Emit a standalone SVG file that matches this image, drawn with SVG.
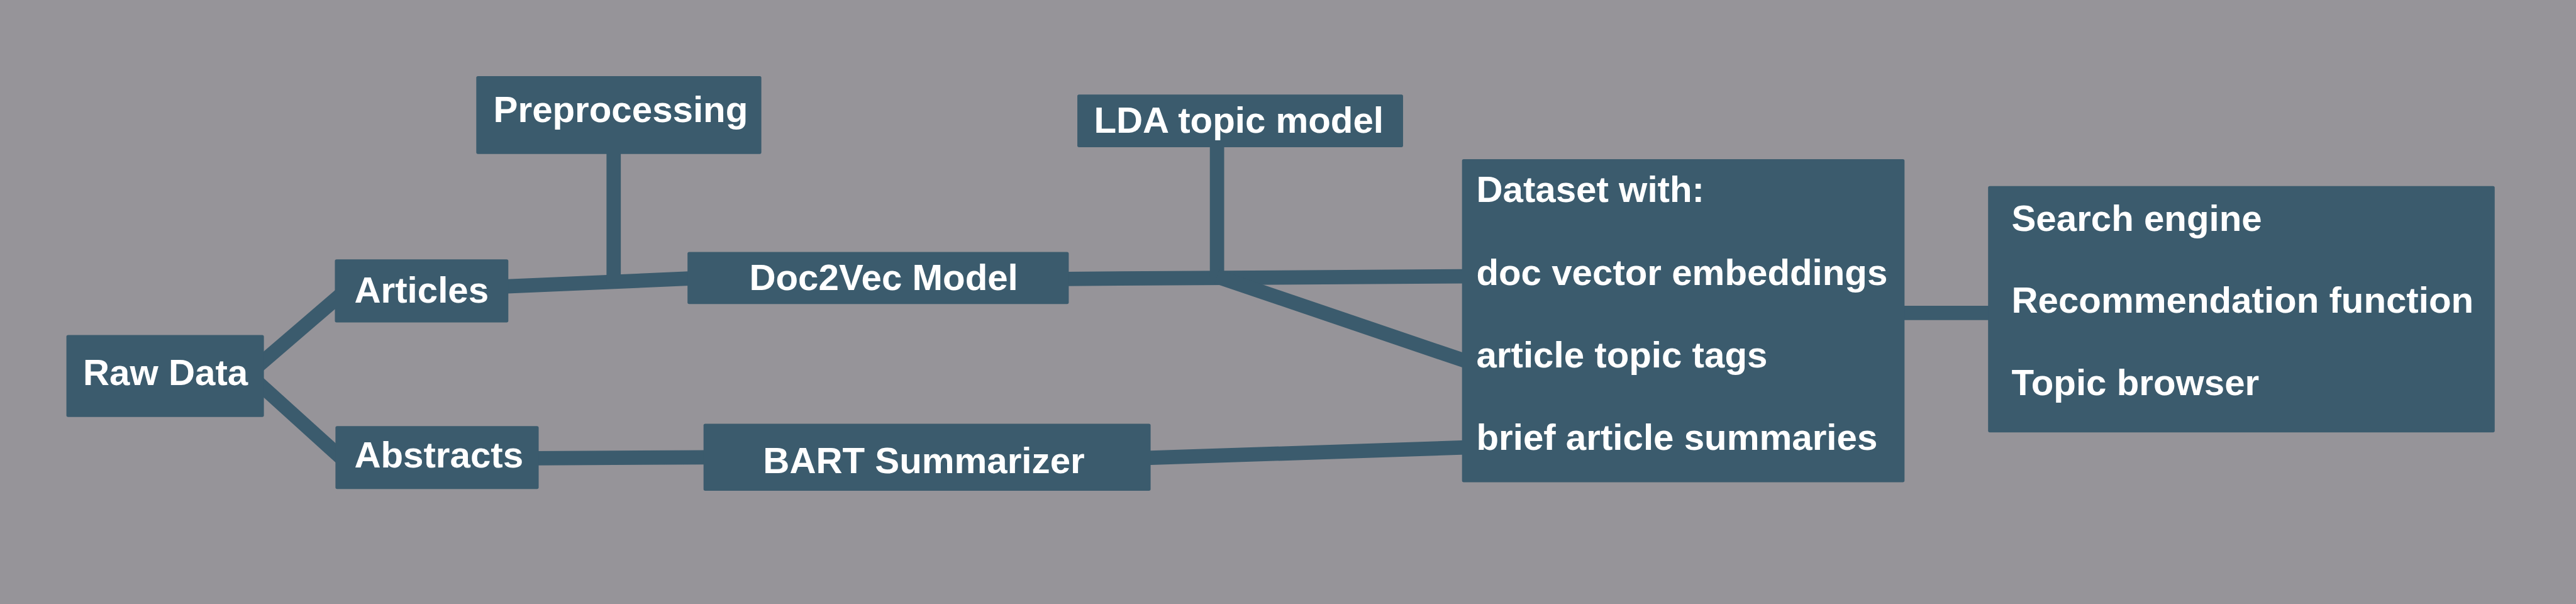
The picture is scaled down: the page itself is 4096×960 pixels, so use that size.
<svg xmlns="http://www.w3.org/2000/svg" width="4096" height="960" viewBox="0 0 4096 960">
<style>
.bg{fill:#969499}
.box{fill:#3b5b6d}
.lbl{fill:#ffffff;font-family:"Liberation Sans",Arial,Helvetica,sans-serif;font-weight:bold;font-size:64px}
.edge{stroke:#3b5b6d;stroke-width:25;fill:none;stroke-linecap:butt}
</style>
<rect class="bg" x="0" y="0" width="4096" height="960"/>
<g transform="scale(0.91022)">
<g id="connectors">
<line class="edge" x1="450" y1="639.4" x2="596" y2="514.1"/>
<line class="edge" x1="450" y1="667.6" x2="597" y2="800.4"/>
<line class="edge" x1="880" y1="500.3" x2="1210" y2="486.1"/>
<line class="edge" x1="1072" y1="260" x2="1072" y2="493"/>
<line class="edge" x1="1860" y1="487" x2="2562" y2="482.5"/>
<line class="edge" x1="2126" y1="250" x2="2126" y2="484"/>
<line class="edge" x1="2126" y1="483" x2="2562" y2="631"/>
<line class="edge" x1="933" y1="800.3" x2="1237" y2="798.5"/>
<line class="edge" x1="2002" y1="799.8" x2="2560" y2="781.3"/>
<line class="edge" x1="3320" y1="546.5" x2="3480" y2="546.5"/>
</g>
<g id="preprocessing">
<rect class="box" x="832" y="133" width="498" height="136" rx="3"/>
<text class="lbl" x="862" y="213">Preprocessing</text>
</g>
<g id="articles">
<rect class="box" x="585" y="453" width="303" height="110" rx="3"/>
<text class="lbl" x="619" y="528">Articles</text>
</g>
<g id="raw-data">
<rect class="box" x="116" y="585" width="345" height="143" rx="3"/>
<text class="lbl" x="145" y="672">Raw Data</text>
</g>
<g id="abstracts">
<rect class="box" x="586" y="744" width="355" height="110" rx="3"/>
<text class="lbl" x="619" y="816">Abstracts</text>
</g>
<g id="doc2vec">
<rect class="box" x="1201" y="440" width="666" height="91" rx="3"/>
<text class="lbl" x="1309" y="506">Doc2Vec Model</text>
</g>
<g id="bart">
<rect class="box" x="1229" y="740" width="781" height="117" rx="3"/>
<text class="lbl" x="1333" y="826">BART Summarizer</text>
</g>
<g id="lda">
<rect class="box" x="1882" y="165" width="569" height="92" rx="3"/>
<text class="lbl" x="1911" y="232">LDA topic model</text>
</g>
<g id="dataset">
<rect class="box" x="2554" y="278" width="773" height="564" rx="3"/>
<text class="lbl" x="2579" y="353">Dataset with:</text>
<text class="lbl" x="2579" y="498">doc vector embeddings</text>
<text class="lbl" x="2579" y="642">article topic tags</text>
<text class="lbl" x="2579" y="785">brief article summaries</text>
</g>
<g id="applications">
<rect class="box" x="3473" y="325" width="885" height="430" rx="3"/>
<text class="lbl" x="3514" y="403">Search engine</text>
<text class="lbl" x="3514" y="546">Recommendation function</text>
<text class="lbl" x="3514" y="690">Topic browser</text>
</g>
</g>
</svg>
